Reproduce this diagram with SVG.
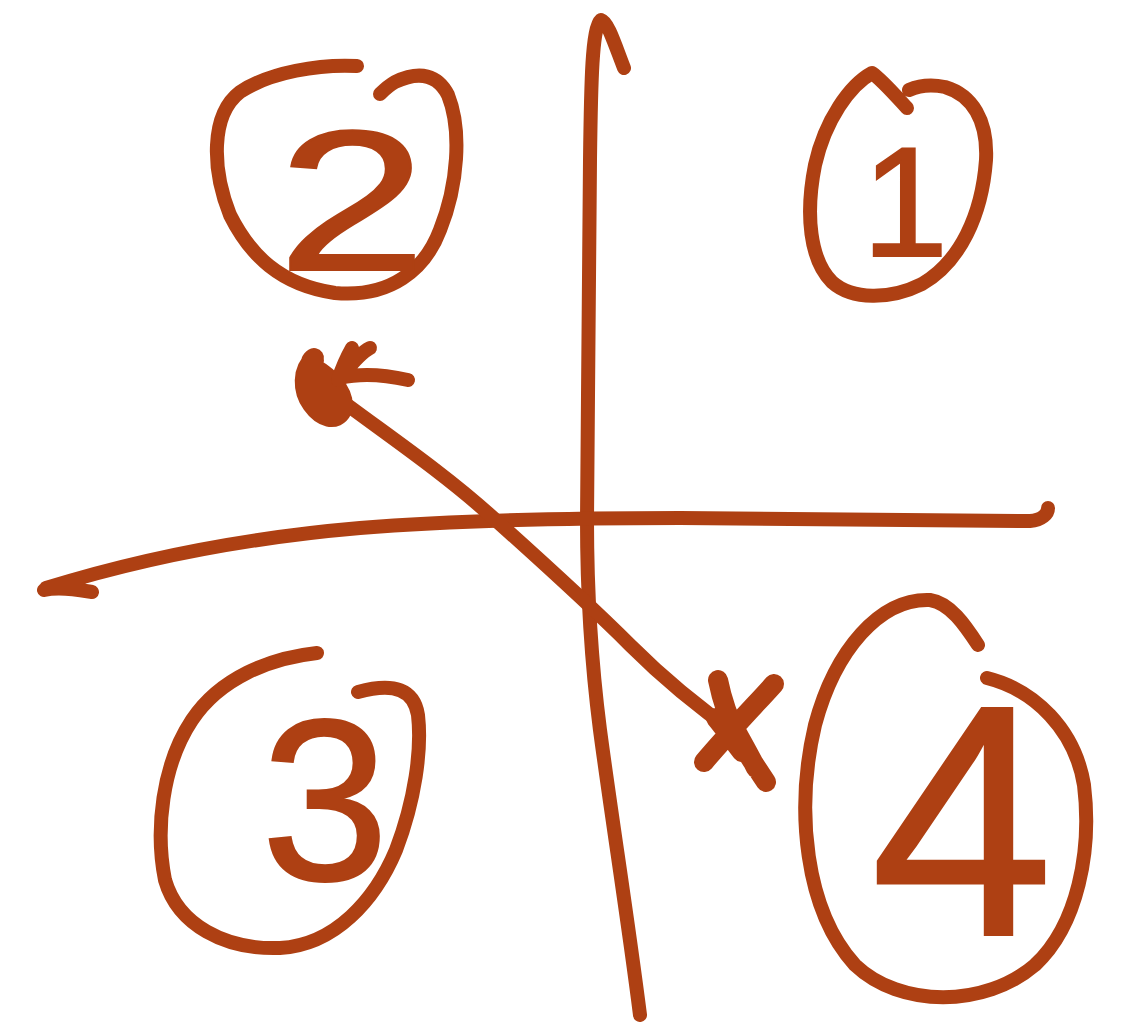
<svg xmlns="http://www.w3.org/2000/svg" width="1128" height="1022" viewBox="0 0 1128 1022">
<style>
.ink{fill:none;stroke:#AE4013;stroke-width:14;stroke-linecap:round;stroke-linejoin:round}
.heavy{stroke-width:20}
.num{fill:#AE4013;stroke:#AE4013;stroke-width:2;font-family:"Liberation Sans","DejaVu Sans",sans-serif;text-anchor:middle}
</style>
<rect width="1128" height="1022" fill="#ffffff"/>
<g id="connectors">
<path class="ink" d="M624,68 C615,45 608,22 601,20 C592,28 591,80 590,160 C589,260 588,400 587,520 C587,600 591,660 600,730 C612,820 628,920 640,1015"/>
<path class="ink" d="M44,590 C60,586 80,590 92,592 M46,588 C120,565 220,540 360,528 C460,520 560,518 680,518 C800,518 920,520 1030,521 C1042,520 1048,514 1048,508"/>
<path class="ink" d="M330,392 C380,430 440,470 490,515 C540,560 585,600 630,645 C670,685 705,712 738,735"/>
</g>
<g id="node-2">
<path class="ink" d="M357,66 C320,64 270,72 240,92 C210,115 212,170 230,215 C250,255 280,285 335,293 C390,298 425,270 440,230 C458,185 462,130 448,95 C438,75 420,70 395,82 C388,86 384,90 380,94"/>
<text class="num" x="352" y="270" font-size="200" textLength="150" lengthAdjust="spacingAndGlyphs">2</text>
</g>
<g id="node-1">
<path class="ink" d="M907,108 C895,95 882,80 872,73 C850,85 825,120 815,165 C805,215 810,260 832,282 C852,300 890,300 922,284 C960,262 982,215 986,160 C988,120 972,95 945,87 C930,84 918,86 909,90"/>
<text class="num" x="905" y="256" font-size="155">1</text>
</g>
<g id="node-3">
<path class="ink" d="M317,653 C270,658 220,678 192,720 C162,765 155,830 165,880 C178,925 225,950 280,948 C335,945 375,900 396,850 C415,800 422,750 418,715 C414,690 395,682 358,692"/>
<text class="num" x="325" y="880" font-size="230">3</text>
</g>
<g id="node-4">
<path class="ink" d="M978,645 C965,625 950,603 930,600 C880,598 835,650 815,725 C795,810 805,910 855,965 C900,1008 985,1008 1035,965 C1078,925 1092,850 1084,785 C1075,730 1035,690 987,678"/>
<text class="num" x="962" y="935" font-size="330">4</text>
</g>
<g id="star-2">
<path class="ink heavy" d="M314,360 C302,370 302,390 312,404 C322,418 336,422 342,410 C346,396 334,382 320,372 C312,366 308,362 314,358 M318,378 C322,390 330,400 338,408"/>
<path class="ink" d="M338,380 C342,368 348,355 352,348 M345,372 C355,360 362,352 370,348 M340,378 C365,372 390,376 408,380"/>
</g>
<g id="star-4">
<path class="ink heavy" d="M718,680 C722,700 728,718 738,738 C748,755 758,770 766,782 M774,684 C758,702 740,720 725,738 C716,748 709,756 704,762 M716,718 C726,730 734,742 742,752 M730,720 C738,735 748,752 756,768"/>
</g>
</svg>
